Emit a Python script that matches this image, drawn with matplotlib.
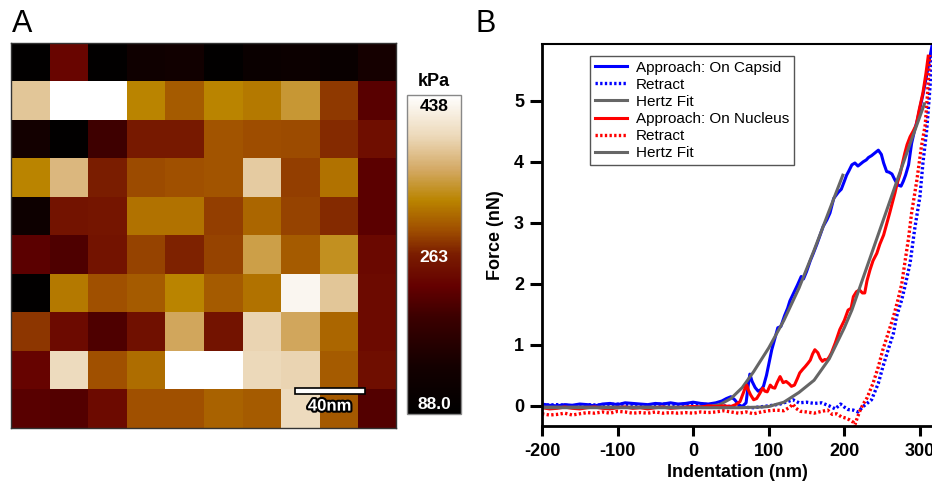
import numpy as np
import matplotlib
matplotlib.use('Agg')
import matplotlib.pyplot as plt
from matplotlib.colors import LinearSegmentedColormap
from matplotlib.patches import Rectangle
import matplotlib.patheffects as pe

plt.rcParams['font.family'] = ['Liberation Sans', 'DejaVu Sans']
plt.rcParams['axes.unicode_minus'] = False

# --- panel A: elasticity map (kPa), 10x10 grid, 22 nm pixels
modulus = [
    [95, 235, 95, 130, 134, 95, 116, 120, 113, 144],
    [378, 438, 438, 323, 298, 323, 316, 340, 279, 218],
    [140, 95, 197, 260, 260, 294, 289, 288, 270, 246],
    [323, 368, 263, 288, 291, 294, 382, 281, 312, 221],
    [123, 253, 256, 312, 312, 281, 305, 284, 270, 221],
    [221, 211, 253, 284, 267, 284, 347, 298, 333, 239],
    [95, 316, 291, 298, 323, 298, 312, 428, 378, 242],
    [277, 242, 211, 249, 354, 253, 389, 354, 305, 242],
    [232, 396, 291, 309, 438, 438, 393, 389, 298, 246],
    [218, 214, 242, 291, 291, 302, 298, 396, 296, 214],
]
vmin, vmax = 88.0, 438.0
map_size_nm = 220
scalebar_nm = 40

# --- panel B: force curves (indentation nm, force nN)
capsid_approach = [
    (-200, 0.03), (-190, 0.01), (-180, 0.0), (-170, 0.02), (-160, 0.01), (-150, 0.03),
    (-140, 0.02), (-130, 0.0), (-120, 0.03), (-110, 0.04), (-100, 0.02), (-90, 0.05),
    (-80, 0.04), (-70, 0.03), (-60, 0.02), (-50, 0.04), (-40, 0.03), (-30, 0.05),
    (-20, 0.03), (-10, 0.04), (0, 0.06), (10, 0.04), (20, 0.03), (30, 0.05),
    (38, 0.08), (44, 0.12), (50, 0.15), (55, 0.1), (60, 0.02), (65, -0.01), (70, 0.05),
    (73, 0.35), (75, 0.52), (78, 0.4), (82, 0.3), (86, 0.24), (90, 0.27), (93, 0.32),
    (97, 0.5), (100, 0.68), (104, 0.92), (108, 1.1), (112, 1.28), (116, 1.3), (121, 1.48),
    (125, 1.6), (128, 1.72), (133, 1.85), (138, 1.98), (143, 2.12), (146, 2.08), (150, 2.2),
    (155, 2.38), (159, 2.5), (164, 2.66), (168, 2.8), (172, 2.94), (177, 3.05), (181, 3.16),
    (186, 3.4), (189, 3.45), (192, 3.5), (196, 3.55), (200, 3.68), (203, 3.78), (206, 3.85),
    (210, 3.95), (214, 3.98), (218, 3.93), (222, 3.97), (225, 4.0), (229, 4.03), (232, 4.07),
    (236, 4.1), (240, 4.14), (245, 4.19), (249, 4.12), (252, 3.98), (256, 3.84), (259, 3.83),
    (263, 3.8), (267, 3.7), (271, 3.62), (275, 3.6), (278, 3.68), (281, 3.78), (285, 3.95),
    (289, 4.3), (293, 4.52), (297, 4.7), (300, 4.88), (304, 5.1), (309, 5.42), (313, 5.7),
    (316, 5.9),
]
capsid_retract = [
    (-200, 0.01), (-180, 0.02), (-160, 0.0), (-140, 0.02), (-120, 0.01), (-100, 0.03),
    (-80, 0.02), (-60, 0.01), (-40, 0.03), (-20, 0.02), (0, 0.03), (20, 0.02), (40, 0.0),
    (60, -0.02), (80, -0.03), (100, 0.0), (115, 0.03), (125, 0.07), (132, 0.1), (140, 0.05),
    (150, 0.06), (160, 0.04), (170, 0.05), (180, 0.0), (188, -0.05), (195, 0.03), (200, -0.02),
    (205, -0.06), (212, -0.07), (218, -0.1), (225, -0.01), (231, 0.05), (236, 0.1),
    (241, 0.25), (245, 0.37), (251, 0.64), (258, 0.92), (265, 1.19), (269, 1.46), (276, 1.74),
    (281, 2.0), (287, 2.34), (293, 2.89), (300, 3.43), (304, 3.98), (309, 4.52), (312, 5.0),
    (315, 5.5), (317, 5.9),
]
capsid_fit = [
    (-200, -0.02), (-100, -0.02), (0, -0.02), (20, -0.01), (35, 0.02), (50, 0.12),
    (65, 0.3), (80, 0.56), (100, 0.95), (120, 1.4), (140, 1.93), (160, 2.55), (180, 3.2),
    (198, 3.78),
]
nucleus_approach = [
    (-200, -0.03), (-190, -0.05), (-180, -0.04), (-170, -0.02), (-160, -0.04), (-150, -0.05),
    (-140, -0.03), (-130, -0.02), (-120, -0.04), (-110, -0.05), (-100, -0.03), (-90, -0.02),
    (-80, -0.04), (-70, -0.03), (-60, -0.05), (-50, -0.03), (-40, -0.02), (-30, -0.04),
    (-20, -0.03), (-10, -0.02), (0, -0.01), (10, -0.02), (20, 0.0), (30, -0.01), (40, 0.0),
    (50, -0.01), (56, 0.02), (62, 0.07), (66, 0.2), (69, 0.3), (71, 0.34), (73, 0.26),
    (76, 0.18), (80, 0.1), (84, 0.12), (88, 0.2), (92, 0.29), (95, 0.24), (98, 0.23),
    (102, 0.34), (105, 0.3), (108, 0.29), (111, 0.38), (115, 0.48), (119, 0.38), (123, 0.4),
    (127, 0.36), (130, 0.32), (134, 0.34), (138, 0.45), (141, 0.54), (145, 0.6), (148, 0.64),
    (152, 0.7), (155, 0.75), (158, 0.85), (161, 0.92), (165, 0.87), (168, 0.78), (171, 0.73),
    (174, 0.76), (177, 0.75), (180, 0.8), (183, 0.87), (188, 1.03), (194, 1.25), (200, 1.4),
    (205, 1.57), (209, 1.6), (212, 1.79), (216, 1.87), (220, 1.9), (224, 1.85), (227, 1.85),
    (230, 2.05), (234, 2.23), (238, 2.38), (243, 2.5), (247, 2.65), (252, 2.8), (256, 2.98),
    (260, 3.16), (264, 3.35), (267, 3.49), (270, 3.65), (274, 3.81), (277, 3.98), (280, 4.14),
    (283, 4.28), (287, 4.41), (291, 4.5), (295, 4.6), (299, 4.85), (304, 5.13), (308, 5.45),
    (311, 5.73),
]
nucleus_retract = [
    (-200, -0.13), (-190, -0.15), (-180, -0.14), (-170, -0.12), (-160, -0.15), (-150, -0.13),
    (-140, -0.11), (-130, -0.12), (-120, -0.1), (-110, -0.12), (-100, -0.09), (-90, -0.1),
    (-80, -0.12), (-70, -0.11), (-60, -0.12), (-50, -0.1), (-40, -0.12), (-30, -0.11),
    (-20, -0.12), (-10, -0.11), (0, -0.12), (10, -0.1), (20, -0.11), (30, -0.1), (40, -0.08),
    (50, -0.1), (60, -0.12), (70, -0.1), (80, -0.13), (90, -0.1), (100, -0.08), (110, -0.07),
    (120, -0.08), (128, -0.02), (132, 0.03), (136, -0.04), (142, -0.09), (150, -0.1),
    (160, -0.12), (170, -0.09), (178, -0.07), (184, -0.14), (190, -0.13), (196, -0.18),
    (202, -0.2), (207, -0.23), (212, -0.27), (214, -0.31), (217, -0.2), (221, -0.07),
    (225, 0.03), (230, 0.13), (238, 0.37), (245, 0.64), (251, 0.92), (258, 1.19), (265, 1.46),
    (271, 1.74), (276, 2.0), (280, 2.34), (285, 2.75), (289, 3.16), (296, 3.7), (302, 4.25),
    (307, 4.6), (310, 5.1), (313, 5.75),
]
nucleus_fit = [
    (-200, -0.03), (0, -0.03), (60, -0.03), (90, -0.02), (100, -0.01), (120, 0.06),
    (140, 0.22), (160, 0.42), (180, 0.77), (200, 1.28), (210, 1.57), (230, 2.28),
    (250, 2.99), (270, 3.7), (290, 4.4), (306, 4.95),
]
legend_labels = ['Approach: On Capsid', 'Retract', 'Hertz Fit',
                 'Approach: On Nucleus', 'Retract', 'Hertz Fit']

W, H = 932, 483
fig = plt.figure(figsize=(W / 100, H / 100), dpi=100)


def box(x0, y0, x1, y1):
    # pixel box (top-left origin) -> figure fraction
    return [x0 / W, 1 - y1 / H, (x1 - x0) / W, (y1 - y0) / H]


cmap = LinearSegmentedColormap.from_list('afm', [
    (0.0, '#000000'), (0.15, '#140000'), (0.3, '#3a0000'), (0.4, '#640000'),
    (0.5, '#7a1c00'), (0.58, '#a05000'), (0.67, '#ba8400'), (0.77, '#d4aa66'),
    (0.87, '#ecd8b8'), (1.0, '#ffffff')])

# ---- A
ax1 = fig.add_axes(box(11, 43, 396, 428))
im = ax1.imshow(np.array(modulus), cmap=cmap, vmin=vmin, vmax=vmax,
                extent=(0, map_size_nm, map_size_nm, 0), interpolation='nearest', aspect='auto')
ax1.set_xticks([])
ax1.set_yticks([])
for s in ax1.spines.values():
    s.set_color('#333333')
    s.set_linewidth(1.0)
ax1.add_patch(Rectangle((162, 197), scalebar_nm, 3.6, facecolor='white',
                        edgecolor='black', linewidth=1.2, zorder=5))
ax1.text(162 + scalebar_nm / 2, 207.5, '%dnm' % scalebar_nm, color='white', fontsize=12,
         fontweight='bold', ha='center', va='center', zorder=6,
         path_effects=[pe.withStroke(linewidth=3, foreground='black')])
fig.text(12 / W, 1 - 24 / H, 'A', fontsize=22, va='center', ha='left')

cax = fig.add_axes(box(407, 95, 461, 414))
cb = fig.colorbar(im, cax=cax, ticks=[])
cb.outline.set_edgecolor('#888888')
cb.outline.set_linewidth(1.0)
fig.text(434 / W, 1 - 82 / H, 'kPa', fontsize=13, fontweight='bold', ha='center', va='center')
cax.text(0.5, 0.965, '%.0f' % vmax, transform=cax.transAxes, fontsize=12.5, fontweight='bold',
         ha='center', va='center', color='black')
cax.text(0.5, 0.49, '%.0f' % ((vmin + vmax) / 2), transform=cax.transAxes, fontsize=12.5,
         fontweight='bold', ha='center', va='center', color='white')
cax.text(0.5, 0.03, '%.1f' % vmin, transform=cax.transAxes, fontsize=12.5, fontweight='bold',
         ha='center', va='center', color='white')

# ---- B
ax2 = fig.add_axes(box(542, 44, 932, 426))


def xy(pts):
    return [p[0] for p in pts], [p[1] for p in pts]


dots = (0, (0.7, 0.7))
ax2.plot(*xy(capsid_approach), color='#0000ff', lw=2.2, label=legend_labels[0])
ax2.plot(*xy(capsid_retract), color='#0000ff', lw=2.4, ls=dots, label=legend_labels[1])
ax2.plot(*xy(capsid_fit), color='#666666', lw=2.2, label=legend_labels[2])
ax2.plot(*xy(nucleus_approach), color='#ff0000', lw=2.2, label=legend_labels[3])
ax2.plot(*xy(nucleus_retract), color='#ff0000', lw=2.4, ls=dots, label=legend_labels[4])
ax2.plot(*xy(nucleus_fit), color='#666666', lw=2.2, label=legend_labels[5])

ax2.set_xlim(-200, 316)
ax2.set_ylim(-0.33, 5.93)
ax2.set_xticks([-200, -100, 0, 100, 200, 300])
ax2.set_yticks([0, 1, 2, 3, 4, 5])
ax2.spines['right'].set_visible(False)
ax2.spines['left'].set_linewidth(2)
ax2.spines['bottom'].set_linewidth(2)
ax2.spines['top'].set_linewidth(1.5)
ax2.tick_params(direction='out', width=2.2, labelsize=13)
ax2.tick_params(axis='x', length=7, pad=5)
ax2.tick_params(axis='y', length=9, pad=4)
for lab in ax2.get_xticklabels() + ax2.get_yticklabels():
    lab.set_fontweight('bold')
ax2.set_xlabel('Indentation (nm)', fontsize=13, fontweight='bold')
ax2.set_ylabel('Force (nN)', fontsize=13, fontweight='bold')
ax2.xaxis.set_label_coords(0.5, -0.1)
ax2.yaxis.set_label_coords(-0.097, 0.5)

leg = ax2.legend(loc='upper left', bbox_to_anchor=(0.123, 0.969), borderaxespad=0,
                 fontsize=11, fancybox=False, framealpha=1, edgecolor='#555555',
                 handlelength=2.1, handletextpad=0.6, labelspacing=0.2, borderpad=0.32)
leg.get_frame().set_linewidth(1.0)
fig.text(476 / W, 1 - 24 / H, 'B', fontsize=22, va='center', ha='left')

fig.savefig('out.png', dpi=100)
